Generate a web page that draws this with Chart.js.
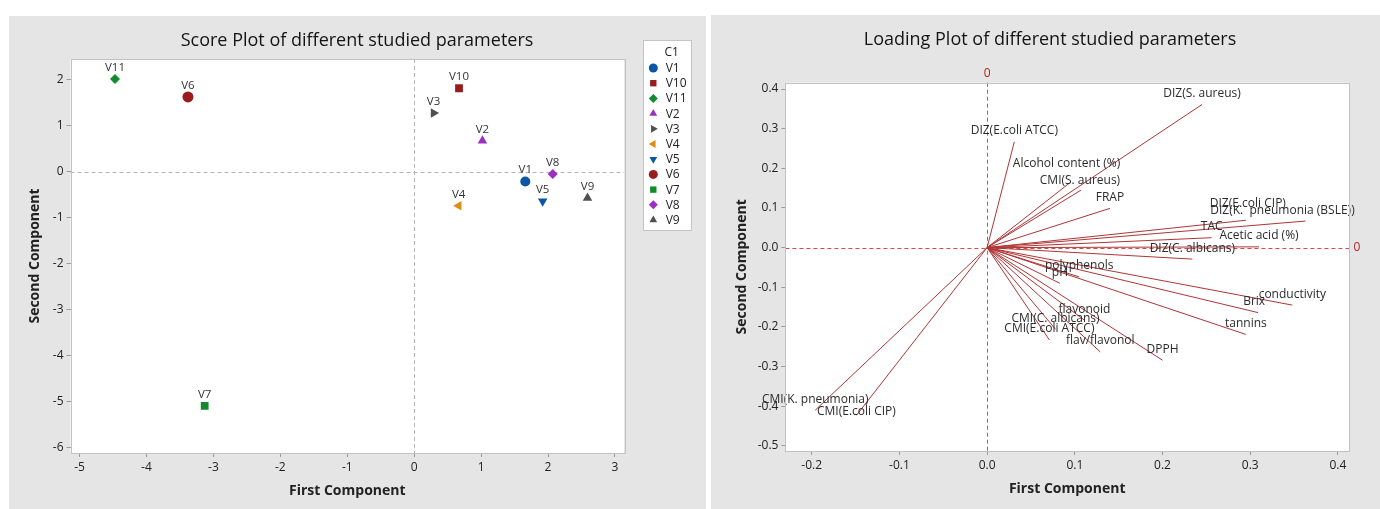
<!DOCTYPE html>
<html>
<head>
<meta charset="utf-8">
<script src="https://cdn.jsdelivr.net/npm/chart.js"></script>
<style>
html, body { margin: 0; padding: 0; background: #fff; }
body { width: 1380px; height: 509px; position: relative; overflow: hidden; }
.panel { position: absolute; background: #e5e5e5; }
#score-panel { left: 9px; top: 16px; width: 697px; height: 493px; }
#loading-panel { left: 711px; top: 15px; width: 669px; height: 494px; }
canvas { display: block; }
</style>
</head>
<body>
<div class="panel" id="score-panel"><canvas id="score-chart" width="697" height="493"></canvas></div>
<div class="panel" id="loading-panel"><canvas id="loading-chart" width="669" height="494"></canvas></div>
<script>
// Score plot data
const scoreNames = ['V1', 'V10', 'V11', 'V2', 'V3', 'V4', 'V5', 'V6', 'V7', 'V8', 'V9'];
const scoreFirst = [1.66, 0.67, -4.47, 1.02, 0.29, 0.665, 1.92, -3.38, -3.13, 2.07, 2.59];
const scoreSecond = [-0.21, 1.82, 2.02, 0.675, 1.28, -0.74, -0.64, 1.63, -5.10, -0.05, -0.57];
const scoreXTicks = [-5, -4, -3, -2, -1, 0, 1, 2, 3];
const scoreYTicks = [-6, -5, -4, -3, -2, -1, 0, 1, 2];

// Loading plot data
const loadNames = [
  'DIZ(S. aureus)', 'DIZ(E.coli ATCC)', 'Alcohol content (%)', 'CMI(S. aureus)', 'FRAP',
  'DIZ(E.coli CIP)', 'DIZ(K.  pneumonia (BSLE))', 'TAC', 'Acetic acid (%)', 'DIZ(C. albicans)',
  'polyphenols', 'pH', 'conductivity', 'Brix', 'tannins', 'flavonoid', 'CMI(C. albicans)',
  'CMI(E.coli ATCC)', 'flav/flavonol', 'DPPH', 'CMI(K. pneumonia)', 'CMI(E.coli CIP)'
];
const loadFirst = [0.245, 0.031, 0.094, 0.107, 0.140, 0.295, 0.363, 0.256, 0.310, 0.234,
  0.105, 0.083, 0.348, 0.309, 0.295, 0.111, 0.078, 0.071, 0.129, 0.200, -0.196, -0.149];
const loadSecond = [0.361, 0.267, 0.163, 0.145, 0.099, 0.069, 0.067, 0.025, 0.002, -0.029,
  -0.074, -0.090, -0.145, -0.164, -0.219, -0.183, -0.206, -0.233, -0.263, -0.284, -0.410, -0.423];
const loadXTicks = [-0.2, -0.1, 0.0, 0.1, 0.2, 0.3, 0.4];
const loadYTicks = [-0.5, -0.4, -0.3, -0.2, -0.1, 0.0, 0.1, 0.2, 0.3, 0.4];

// Marker styles (Minitab-like symbol / colour cycle)
const markerColors = ['#0a55a5', '#981b1e', '#148a2e', '#9b2fc4', '#505050', '#df8d0e',
  '#0a55a5', '#981b1e', '#148a2e', '#9b2fc4', '#505050'];
const markerShapes = ['circle', 'rect', 'rectRot', 'triangle', 'triangle', 'triangle',
  'triangle', 'circle', 'rect', 'rectRot', 'triangle'];
const markerRotation = [0, 0, 0, 0, 90, -90, 180, 0, 0, 0, 0];
const markerRadius = [5, 5.5, 5, 5.5, 5.5, 5.5, 5.5, 5.5, 5.5, 5, 5.5];

// Loading label nudges in px (dx, dy from line end), default is straight above
const labelNudge = {
  'DIZ(E.coli CIP)': [2, -17],
  'DIZ(K.  pneumonia (BSLE))': [-23, -10],
  'Alcohol content (%)': [-3, -19],
  'CMI(S. aureus)': [-1, -10],
  'Brix': [-4, -11],
  'CMI(E.coli CIP)': [0, -4]
};

const FONT = "'Open Sans', 'Noto Sans', sans-serif";
const TEXT = '#222';
Chart.defaults.font.family = FONT;
Chart.defaults.color = TEXT;

// White plot area, frame, dashed reference lines and title
const decor = {
  id: 'decor',
  beforeDraw(chart) {
    const a = chart.chartArea, ctx = chart.ctx;
    ctx.save();
    ctx.fillStyle = '#fff';
    ctx.fillRect(a.left, a.top, a.right - a.left, a.bottom - a.top);
    ctx.restore();
  },
  beforeDatasetsDraw(chart, args, opts) {
    const a = chart.chartArea, ctx = chart.ctx;
    const x0 = chart.scales.x.getPixelForValue(0);
    const y0 = chart.scales.y.getPixelForValue(0);
    ctx.save();
    ctx.strokeStyle = opts.refColor;
    ctx.lineWidth = 1;
    ctx.setLineDash([4, 3]);
    ctx.beginPath();
    ctx.moveTo(a.left, Math.round(y0) + 0.5);
    ctx.lineTo(a.right, Math.round(y0) + 0.5);
    ctx.moveTo(Math.round(x0) + 0.5, a.top);
    ctx.lineTo(Math.round(x0) + 0.5, a.bottom);
    ctx.stroke();
    ctx.restore();
  },
  afterDraw(chart, args, opts) {
    const a = chart.chartArea, ctx = chart.ctx;
    ctx.save();
    ctx.strokeStyle = '#c2c2c2';
    ctx.lineWidth = 1;
    ctx.strokeRect(Math.round(a.left) + 0.5, Math.round(a.top) + 0.5,
      Math.round(a.right - a.left), Math.round(a.bottom - a.top));
    ctx.fillStyle = '#141414';
    ctx.font = '18px ' + FONT;
    ctx.textAlign = 'center';
    ctx.textBaseline = 'middle';
    ctx.fillText(opts.title, opts.titleX, opts.titleY);
    if (opts.zeroLabels) {
      const x0 = chart.scales.x.getPixelForValue(0);
      const y0 = chart.scales.y.getPixelForValue(0);
      ctx.fillStyle = '#b52020';
      ctx.font = '12px ' + FONT;
      ctx.fillText('0', x0, a.top - 9);
      ctx.fillText('0', a.right + 8, y0);
    }
    ctx.restore();
  }
};

// Names above each score point
const pointNames = {
  id: 'pointNames',
  afterDatasetsDraw(chart) {
    const ctx = chart.ctx;
    ctx.save();
    ctx.font = '11.5px ' + FONT;
    ctx.fillStyle = '#333';
    ctx.textAlign = 'center';
    ctx.textBaseline = 'middle';
    chart.data.datasets.forEach((ds, i) => {
      const pt = chart.getDatasetMeta(i).data[0];
      ctx.fillText(ds.label, pt.x, pt.y - 11.5);
    });
    ctx.restore();
  }
};

// Legend box on the right of the score plot
const legendBox = {
  id: 'legendBox',
  afterDraw(chart, args, o) {
    const ctx = chart.ctx;
    ctx.save();
    ctx.fillStyle = '#fff';
    ctx.fillRect(o.left, o.top, o.width, o.height);
    ctx.strokeStyle = '#c4c4c4';
    ctx.lineWidth = 1;
    ctx.strokeRect(o.left + 0.5, o.top + 0.5, o.width, o.height);
    ctx.font = '12px ' + FONT;
    ctx.fillStyle = TEXT;
    ctx.textBaseline = 'middle';
    ctx.textAlign = 'center';
    ctx.fillText('C1', o.titleX, o.top + 13);
    ctx.textAlign = 'left';
    chart.data.datasets.forEach((ds, i) => {
      const y = o.top + 28 + i * 15.2;
      ctx.fillStyle = ds.backgroundColor;
      Chart.helpers.drawPoint(ctx, {
        pointStyle: ds.pointStyle, rotation: ds.rotation, radius: 4.5, borderWidth: 0
      }, o.markerX, y);
      ctx.fillStyle = TEXT;
      ctx.fillText(ds.label, o.textX, y + 0.5);
    });
    ctx.restore();
  }
};

// Variable names at the loading line ends
const vectorNames = {
  id: 'vectorNames',
  afterDatasetsDraw(chart) {
    const ctx = chart.ctx;
    ctx.save();
    ctx.font = '12px ' + FONT;
    ctx.fillStyle = '#2b2b2b';
    ctx.textAlign = 'center';
    ctx.textBaseline = 'middle';
    chart.data.datasets.forEach((ds, i) => {
      const end = chart.getDatasetMeta(i).data[1];
      const n = labelNudge[ds.label] || [0, -11];
      ctx.fillText(ds.label, end.x + n[0], end.y + n[1]);
    });
    ctx.restore();
  }
};

function axis(ticks, fmt, fit, title, titlePad) {
  return {
    type: 'linear',
    min: fit.min,
    max: fit.max,
    afterBuildTicks: s => { s.ticks = ticks.map(v => ({ value: v })); },
    afterFit: s => { if (fit.width) s.width = fit.width; if (fit.height) s.height = fit.height; },
    grid: { drawOnChartArea: false, drawTicks: true, tickLength: 4, color: '#9a9a9a' },
    border: { display: false },
    ticks: { font: { size: 12 }, color: TEXT, padding: 3, callback: fmt, maxRotation: 0, autoSkip: false },
    title: { display: true, text: title, font: { size: 14, weight: 'bold' }, color: TEXT, padding: titlePad }
  };
}

// Score plot
new Chart(document.getElementById('score-chart'), {
  type: 'scatter',
  data: {
    datasets: scoreNames.map((name, i) => ({
      label: name,
      data: [{ x: scoreFirst[i], y: scoreSecond[i] }],
      pointStyle: markerShapes[i],
      rotation: markerRotation[i],
      radius: markerRadius[i],
      pointRadius: markerRadius[i],
      backgroundColor: markerColors[i],
      borderColor: markerColors[i],
      borderWidth: 0
    }))
  },
  options: {
    responsive: false,
    animation: false,
    events: [],
    layout: { padding: { top: 43, right: 82, bottom: 0, left: 0 } },
    scales: {
      x: axis(scoreXTicks, v => String(v), { min: -5.135, max: 3.135, height: 56 }, 'First Component', { top: 0, bottom: 9.6 }),
      y: axis(scoreYTicks, v => String(v), { min: -6.124, max: 2.457, width: 61.5 }, 'Second Component', { top: 17.6, bottom: 0 })
    },
    plugins: {
      legend: { display: false },
      tooltip: { enabled: false },
      decor: { title: 'Score Plot of different studied parameters', titleX: 348, titleY: 25, refColor: '#b4b4b4' },
      legendBox: { left: 634, top: 24, width: 48, height: 190, titleX: 662.7, markerX: 644.3, textX: 656.7 }
    }
  },
  plugins: [decor, pointNames, legendBox]
});

// Loading plot
new Chart(document.getElementById('loading-chart'), {
  type: 'scatter',
  data: {
    datasets: loadNames.map((name, i) => ({
      label: name,
      data: [{ x: 0, y: 0 }, { x: loadFirst[i], y: loadSecond[i] }],
      showLine: true,
      borderColor: '#b03535',
      borderWidth: 1,
      pointRadius: 0
    }))
  },
  options: {
    responsive: false,
    animation: false,
    events: [],
    layout: { padding: { top: 67.7, right: 31, bottom: 0, left: 0 } },
    scales: {
      x: axis(loadXTicks, v => v.toFixed(1), { min: -0.23, max: 0.4126, height: 58 }, 'First Component', { top: 0, bottom: 11.6 }),
      y: axis(loadYTicks, v => v.toFixed(1), { min: -0.513, max: 0.416, width: 74.4 }, 'Second Component', { top: 22.6, bottom: 0 })
    },
    plugins: {
      legend: { display: false },
      tooltip: { enabled: false },
      decor: { title: 'Loading Plot of different studied parameters', titleX: 339, titleY: 25, refColor: '#e0474c', zeroLabels: true }
    }
  },
  plugins: [decor, vectorNames]
});
</script>
</body>
</html>
